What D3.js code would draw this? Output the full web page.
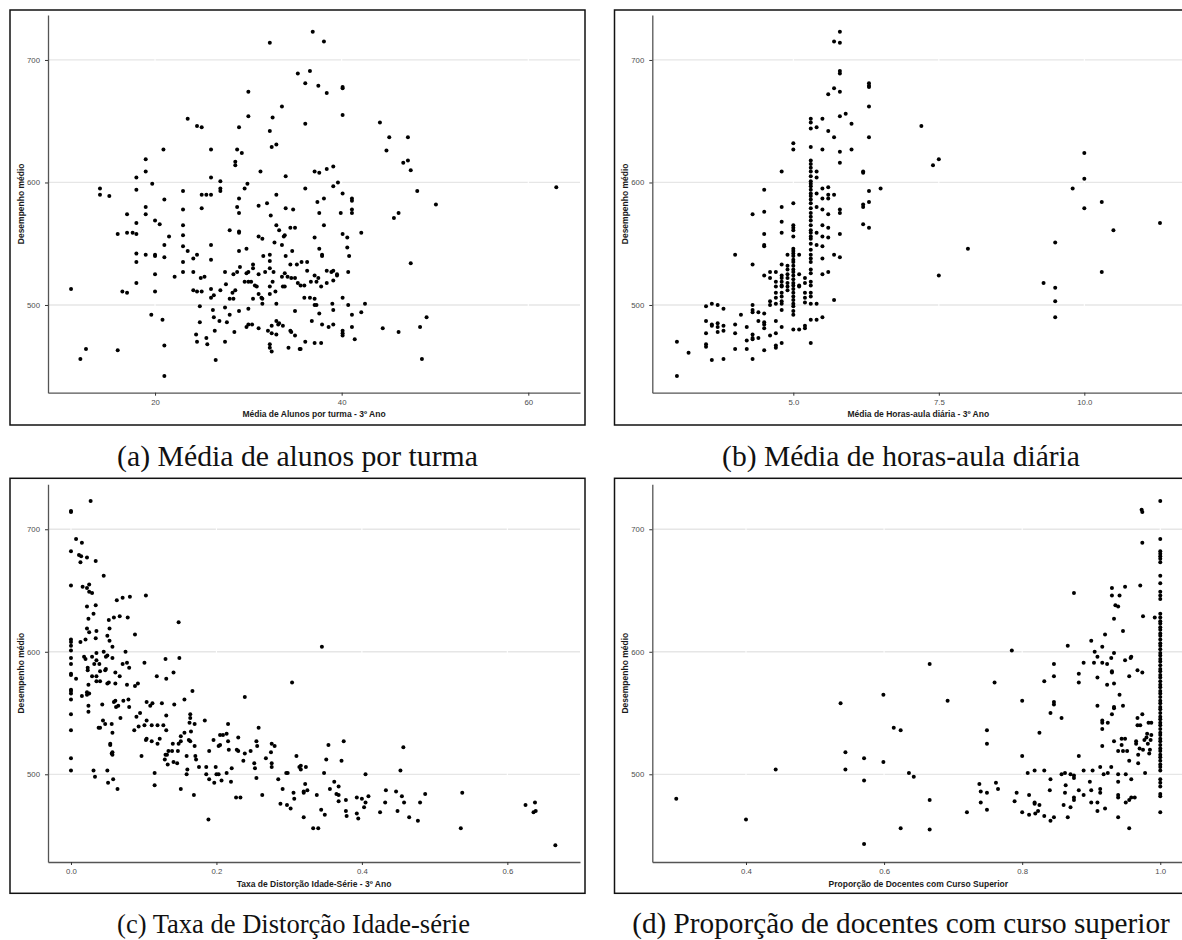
<!DOCTYPE html>
<html>
<head>
<meta charset="utf-8">
<script src="https://cdn.jsdelivr.net/npm/d3@7"></script>
<style>
  body { margin: 0; background: #fff; }
  svg { display: block; }
  .tick text { font-family: "Liberation Sans", Arial, sans-serif; font-size: 7.8px; fill: #4d4d4d; }
  .tick line { stroke: #333; }
  .domain { stroke: #555; stroke-width: 1.3px; }
  .axis-title { font-family: "Liberation Sans", Arial, sans-serif; font-size: 8.5px; font-weight: bold; fill: #1a1a1a; }
  .caption { font-family: "Liberation Serif", "DejaVu Serif", serif; fill: #111; }
</style>
</head>
<body>
<svg id="chart" width="1182" height="940"></svg>
<script>
// shared y axis: Desempenho médio
const yDomain = [428.4, 736.7];
const yTicks = [500, 600, 700];

// (a) média de alunos por turma vs desempenho
const alunos = [
  [32.3,714],[35.3,689],[30.0,674],[33.6,662],[23.5,652],[30.0,654],[32.6,653],[24.5,646],[25.0,645],[29.0,645],
  [32.3,642],[33.0,631],[32.5,629],[20.9,627],[26.0,627],[28.8,627],[29.3,624],[19.0,619],[28.6,617],[28.6,614],
  [19.0,609],[31.3,609],[18.0,604],[26.0,604],[34.0,605],[27.0,601],[19.7,599],[29.9,599],[29.6,595],[14.1,595],
  [18.0,594],[23.0,593],[27.0,595],[27.0,593],[14.1,590],[15.1,589],[25.0,590],[25.5,590],[26.0,590],[29.0,587],
  [33.0,590],[21.0,586],[25.0,579],[19.0,580],[31.1,581],[32.0,583],[34.0,579],[34.8,578],[23.0,578],[28.8,580],
  [29.0,575],[17.0,574],[19.0,574],[32.4,573],[18.0,567],[20.0,569],[20.5,566],[23.0,565],[33.0,565],[34.5,563],
  [35.0,563],[28.0,561],[29.0,560],[29.0,559],[33.3,561],[17.0,559],[17.6,559],[18.0,558],[16.0,558],[21.5,556],
  [23.0,557],[33.9,557],[33.8,556],[31.1,556],[31.5,554],[32.8,551],[33.6,549],[21.0,549],[23.0,548],[26.0,549],
  [23.5,544],[29.0,544],[29.8,546],[34.7,544],[18.0,542],[19.0,541],[20.0,541],[20.0,540],[24.5,541],[24.1,538],
  [21.0,539],[26.0,537],[18.0,535],[23.0,535],[31.6,540],[32.3,541],[34.0,540],[32.3,536],[34.5,533],[35.2,533],
  [30.5,533],[29.1,531],[30.5,530],[29.8,526],[30.0,527],[23.0,527],[24.1,527],[20.0,525],[27.5,527],[28.4,525],
  [28.8,527],[32.3,530],[32.7,527],[31.8,527],[31.1,525],[33.9,526],[33.6,523],[34.2,523],[34.6,522],[35.0,522],
  [24.9,522],[25.3,523],[22.1,523],[18.0,518],[29.6,519],[30.0,519],[30.3,519],[30.7,516],[30.9,515],[32.3,515],
  [32.6,519],[33.7,515],[33.9,515],[35.3,518],[27.6,517],[26.0,513],[27.0,512],[24.1,512],[24.5,511],[28.3,510],
  [32.9,511],[32.3,509],[31.1,509],[28.6,512],[11.0,513],[16.5,511],[17.0,510],[20.0,511],[26.3,508],[26.0,506],
  [25.0,511],[28.0,505],[28.4,505],[31.4,506],[31.5,505],[31.5,501],[30.5,505],[33.0,501],[24.8,499],[27.5,498],
  [30.0,497],[29.0,495],[35.0,495],[19.6,492],[26.2,496],[28.0,492],[26.3,490],[20.8,488],[26.9,487],[27.7,486],
  [24.8,486],[33.0,487],[33.3,485],[33.2,484],[29.8,482],[30.0,484],[30.4,484],[31.1,481],[32.1,479],[32.5,483],
  [33.7,483],[33.0,476],[32.5,477],[34.5,479],[34.6,478],[35.0,475],[26.4,479],[24.4,476],[28.5,478],[27.5,470],
  [24.5,470],[25.5,473],[25.6,468],[21.0,467],[32.3,468],[32.3,465],[32.5,462],[34.3,465],[35.5,464],[12.6,464],
  [16.0,463],[12.0,456],[26.5,455],[21.0,442],
  [36.9,723],[38.1,715],[36.6,691],[36.1,681],[37.5,679],[40.1,678],[40.1,677],[38.4,673],[40.1,655],[36.1,648],
  [44.1,649],[45.1,637],[47.1,637],[44.8,626],[47.1,618],[46.6,616],[47.4,610],[37.1,609],[37.6,608],[38.4,611],
  [39.1,613],[39.6,600],[39.1,597],[36.1,595],[48.1,593],[40.1,591],[63.0,596],[50.1,582],[41.1,587],[41.1,585],
  [38.1,587],[37.4,584],[41.1,578],[41.1,575],[37.6,575],[39.9,575],[46.1,575],[45.6,571],[38.1,565],[42.1,559],
  [40.1,558],[40.6,555],[37.1,555],[40.6,547],[37.6,546],[37.9,541],[37.9,540],[40.8,540],[47.4,534],[35.7,535],
  [36.3,535],[36.3,528],[38.4,528],[38.9,527],[39.1,528],[39.5,525],[39.5,524],[40.7,527],[37.1,524],[37.5,522],
  [36.7,519],[37.3,519],[38.4,518],[39.1,520],[35.6,516],[36.0,516],[37.8,515],[36.0,506],[36.6,506],[37.1,505],
  [37.1,500],[37.3,500],[39.0,501],[40.1,506],[40.7,500],[42.5,501],[37.6,493],[39.1,496],[41.1,492],[42.1,494],
  [36.8,487],[37.9,484],[38.6,482],[39.1,484],[40.1,479],[40.1,477],[40.1,475],[41.1,482],[41.4,472],[44.4,481],
  [46.1,478],[48.4,482],[49.1,490],[36.1,470],[37.1,469],[37.8,469],[35.6,464],[48.6,456]
];

// (b) média de horas-aula diária vs desempenho
const horas = [
  [3.0,470],[3.0,442],[3.2,461],
  [3.5,499],[3.5,487],[3.5,477],[3.5,468],[3.5,466],
  [3.6,501],[3.6,484],[3.6,483],[3.6,455],
  [3.7,500],[3.7,485],[3.7,482],[3.7,478],
  [3.8,497],[3.8,483],[3.8,479],[3.8,456],
  [4.0,541],[4.0,484],[4.0,477],[4.0,464],[4.1,492],
  [4.2,482],[4.2,471],[4.2,464],
  [4.3,574],[4.3,533],[4.3,500],[4.3,496],[4.3,494],[4.3,476],[4.3,473],[4.3,472],[4.3,456],
  [4.4,494],[4.4,487],[4.4,473],
  [4.5,594],[4.5,576],[4.5,558],[4.5,549],[4.5,548],[4.5,524],[4.5,493],[4.5,486],[4.5,484],[4.5,481],[4.5,463],
  [4.6,527],[4.6,522],[4.6,503],[4.6,500],[4.6,475],
  [4.7,527],[4.7,519],[4.7,515],[4.7,510],[4.7,506],[4.7,501],[4.7,487],[4.7,477],[4.7,467],[4.7,465],
  [4.8,609],[4.8,580],[4.8,568],[4.8,559],[4.8,533],[4.8,524],[4.8,522],[4.8,519],[4.8,516],[4.8,515],
  [4.8,510],[4.8,507],[4.8,503],[4.8,501],[4.8,496],[4.8,482],[4.8,469],
  [4.9,541],[4.9,532],[4.9,529],[4.9,525],[4.9,522],[4.9,518],[4.9,515],[4.9,512],
  [5.0,632],[5.0,627],[5.0,583],[5.0,565],[5.0,563],[5.0,561],[5.0,556],[5.0,546],[5.0,544],[5.0,542],
  [5.0,540],[5.0,537],[5.0,535],[5.0,532],[5.0,529],[5.0,527],[5.0,524],[5.0,521],[5.0,518],[5.0,516],
  [5.0,513],[5.0,510],[5.0,507],[5.0,504],[5.0,501],[5.0,499],[5.0,495],[5.0,492],[5.0,480],
  [5.1,541],[5.1,525],[5.1,516],[5.1,515],[5.1,480],
  [5.2,522],[5.2,518],[5.2,510],[5.2,506],[5.2,502],[5.2,481],[5.2,483],
  [5.3,652],[5.3,649],[5.3,644],[5.3,629],[5.3,618],[5.3,615],[5.3,612],[5.3,609],[5.3,605],[5.3,601],
  [5.3,599],[5.3,597],[5.3,594],[5.3,591],[5.3,589],[5.3,586],[5.3,583],[5.3,579],[5.3,575],[5.3,572],
  [5.3,569],[5.3,565],[5.3,561],[5.3,559],[5.3,556],[5.3,554],[5.3,550],[5.3,545],[5.3,541],[5.3,538],
  [5.3,535],[5.3,529],[5.3,526],[5.3,519],[5.3,516],[5.3,510],[5.3,507],[5.3,501],[5.3,488],[5.3,469],
  [5.4,645],[5.4,609],[5.4,604],[5.4,591],[5.4,580],[5.4,559],[5.4,549],[5.4,501],[5.4,488],
  [5.5,652],[5.5,627],[5.5,595],[5.5,587],[5.5,578],[5.5,565],[5.5,556],[5.5,548],[5.5,538],[5.5,525],[5.5,490],
  [5.6,672],[5.6,642],[5.6,596],[5.6,590],[5.6,587],[5.6,574],[5.6,563],[5.6,555],[5.6,527],
  [5.7,715],[5.7,677],[5.7,637],[5.7,590],[5.7,541],[5.7,504],
  [5.8,723],[5.8,714],[5.8,691],[5.8,689],[5.8,674],[5.8,654],[5.8,625],[5.8,616],[5.8,578],[5.8,575],[5.8,558],[5.8,539],
  [5.9,656],[6.0,648],[6.0,627],
  [6.2,609],[6.2,608],[6.2,582],[6.2,580],[6.2,566],
  [6.3,681],[6.3,679],[6.3,678],[6.3,662],[6.3,637],[6.3,593],[6.3,584],[6.3,563],
  [6.5,595],
  [7.2,646],[7.4,614],[7.5,619],[7.5,524],[8.0,546],[9.3,518],[9.5,551],[9.5,514],[9.5,503],[9.5,490],
  [9.8,595],[10.0,624],[10.0,603],[10.0,579],[10.3,584],[10.3,527],[10.5,561],[11.3,567]
];

// (c) taxa de distorção idade-série vs desempenho
const distorcao = [
  [0,715],[0,714],[0,682],[0,654],[0,610],[0,608],[0,605],[0,601],[0,595],[0,590],
  [0,582],[0,581],[0,569],[0,568],[0,566],[0,561],[0,549],[0,536],[0,513],[0,503],
  [0.007,578],[0.027,723],[0.007,692],[0.015,689],[0.011,679],[0.014,678],[0.022,677],[0.013,673],[0.034,674],[0.045,662],
  [0.016,653],[0.022,652],[0.025,649],[0.029,648],[0.025,655],[0.103,646],[0.081,645],[0.071,644],[0.063,642],[0.034,638],
  [0.022,637],[0.031,631],[0.067,629],[0.059,628],[0.078,628],[0.052,626],[0.024,627],[0.148,624],[0.053,619],[0.022,619],
  [0.035,617],[0.025,616],[0.088,614],[0.034,611],[0.050,613],[0.053,609],[0.020,610],[0.013,608],[0.057,604],[0.075,600],
  [0.045,600],[0.035,599],[0.050,597],[0.018,596],[0.029,596],[0.048,596],[0.057,595],[0.020,594],[0.035,593],[0.130,594],
  [0.149,595],[0.101,591],[0.039,590],[0.071,590],[0.077,591],[0.032,590],[0.023,587],[0.023,585],[0.048,586],[0.047,585],
  [0.080,587],[0.035,580],[0.029,580],[0.040,584],[0.061,583],[0.141,583],[0.118,580],[0.067,580],[0.131,578],[0.040,576],
  [0.035,576],[0.024,573],[0.052,575],[0.050,574],[0.061,574],[0.077,573],[0.092,574],[0.088,572],[0.167,568],[0.025,566],
  [0.022,565],[0.015,564],[0.022,567],[0.156,561],[0.059,559],[0.061,560],[0.072,560],[0.079,561],[0.104,559],[0.112,558],
  [0.109,556],[0.125,558],[0.142,557],[0.043,557],[0.024,556],[0.062,555],[0.065,556],[0.080,555],[0.024,551],[0.095,550],
  [0.090,547],[0.131,548],[0.104,544],[0.164,549],[0.164,546],[0.184,544],[0.068,546],[0.044,544],[0.047,541],[0.040,538],
  [0.038,538],[0.056,541],[0.093,539],[0.101,540],[0.111,540],[0.119,540],[0.127,540],[0.163,542],[0.170,541],[0.216,541],
  [0.258,538],[0.131,536],[0.165,535],[0.087,536],[0.057,534],[0.156,534],[0.151,531],[0.205,532],[0.209,532],[0.214,533],
  [0.196,528],[0.230,530],[0.162,528],[0.164,527],[0.104,529],[0.103,528],[0.111,527],[0.122,529],[0.140,525],[0.148,525],
  [0.151,527],[0.170,523],[0.054,525],[0.054,524],[0.119,525],[0.216,527],[0.203,523],[0.205,524],[0.217,520],[0.255,527],
  [0.256,523],[0.276,525],[0.280,523],[0.275,518],[0.228,520],[0.230,519],[0.134,519],[0.139,519],[0.147,519],[0.190,519],
  [0.239,517],[0.247,519],[0.057,518],[0.056,517],[0.057,516],[0.097,515],[0.159,515],[0.171,515],[0.172,512],[0.130,516],
  [0.132,516],[0.129,512],[0.133,508],[0.141,510],[0.146,509],[0.268,513],[0.237,511],[0.252,509],[0.276,509],[0.276,506],
  [0.221,505],[0.176,506],[0.186,506],[0.199,506],[0.160,504],[0.159,500],[0.186,500],[0.200,500],[0.203,500],[0.214,501],
  [0.253,505],[0.255,497],[0.285,496],[0.296,501],[0.298,501],[0.310,515],[0.314,506],[0.304,575],[0.239,563],[0.115,501],
  [0.115,491],[0.031,503],[0.033,498],[0.050,503],[0.051,493],[0.058,496],[0.064,488],[0.151,488],[0.169,483],[0.190,496],
  [0.197,493],[0.207,495],[0.220,494],[0.227,481],[0.233,481],[0.263,483],[0.291,488],[0.288,476],[0.297,475],[0.302,472],
  [0.306,485],[0.307,480],[0.189,463],
  [0.345,604],[0.354,524],[0.375,527],[0.457,522],[0.351,512],[0.372,511],[0.316,507],[0.316,504],[0.323,506],[0.348,501],
  [0.405,500],[0.453,503],[0.322,492],[0.362,494],[0.320,486],[0.320,485],[0.325,487],[0.338,483],[0.356,488],[0.365,484],
  [0.368,483],[0.368,490],[0.378,479],[0.368,478],[0.393,481],[0.400,480],[0.405,477],[0.409,482],[0.403,473],[0.393,468],
  [0.395,464],[0.378,470],[0.379,466],[0.433,487],[0.432,477],[0.425,469],[0.447,486],[0.455,482],[0.458,477],[0.449,470],
  [0.465,465],[0.480,477],[0.487,484],[0.477,462],[0.538,485],[0.536,456],[0.344,471],[0.349,467],[0.320,465],[0.333,456],
  [0.340,456],[0.625,475],[0.638,477],[0.636,469],[0.639,470],[0.666,442]
];

// (d) proporção de docentes com curso superior vs desempenho
const docentes = [
  [0.299,480],[0.400,463],[0.443,504],[0.537,558],[0.544,518],[0.544,504],[0.571,513],[0.571,495],[0.571,443],[0.599,565],
  [0.599,510],[0.614,538],[0.624,536],[0.636,501],[0.643,498],[0.624,456],[0.666,590],[0.666,479],[0.666,455],[0.692,560],
  [0.720,469],[0.738,492],[0.740,486],[0.740,477],[0.749,536],[0.749,525],[0.749,485],[0.749,471],[0.760,575],[0.762,493],
  [0.765,488],[0.785,601],[0.789,478],[0.792,485],[0.800,560],[0.800,515],[0.800,469],[0.808,501],[0.810,483],[0.810,467],
  [0.818,503],[0.818,477],[0.818,476],[0.819,468],[0.823,470],[0.825,475],[0.825,534],[0.832,576],[0.832,503],[0.832,466],
  [0.840,487],[0.841,550],[0.841,496],[0.841,462],[0.846,590],[0.846,580],[0.846,559],[0.846,557],[0.846,465],[0.857,546],
  [0.857,500],[0.860,475],[0.862,501],[0.862,485],[0.863,491],[0.866,605],[0.866,465],[0.870,500],[0.870,473],[0.875,648],
  [0.875,499],[0.875,497],[0.875,481],[0.875,479],[0.882,582],[0.882,575],[0.882,515],[0.882,487],[0.889,591],[0.889,503],
  [0.889,483],[0.898,494],[0.900,609],[0.900,487],[0.900,477],[0.902,503],[0.905,600],[0.904,591],[0.909,596],[0.909,579],
  [0.909,556],[0.909,477],[0.909,470],[0.913,488],[0.913,485],[0.913,506],[0.916,604],[0.916,591],[0.916,544],[0.916,542],
  [0.916,537],[0.916,523],[0.918,500],[0.920,614],[0.920,472],[0.923,590],[0.923,573],[0.924,501],[0.924,542],[0.929,506],
  [0.929,595],[0.930,646],[0.930,652],[0.930,584],[0.930,583],[0.930,549],[0.933,599],[0.933,627],[0.933,574],[0.933,555],
  [0.933,554],[0.933,527],[0.935,638],[0.939,637],[0.939,519],[0.939,500],[0.939,494],[0.939,483],[0.939,481],[0.939,465],
  [0.941,646],[0.941,565],[0.944,529],[0.944,524],[0.946,617],[0.946,556],[0.946,519],[0.949,653],[0.949,593],[0.949,529],
  [0.950,500],[0.950,477],[0.952,519],[0.955,580],[0.955,511],[0.955,479],[0.955,456],[0.957,595],[0.958,596],[0.958,496],
  [0.958,481],[0.963,481],[0.965,527],[0.965,525],[0.967,546],[0.967,585],[0.967,540],[0.968,516],[0.968,509],[0.970,521],
  [0.971,654],[0.971,540],[0.973,716],[0.974,714],[0.974,689],[0.974,583],[0.974,549],[0.975,520],[0.975,629],[0.977,528],
  [0.978,501],[0.980,530],[0.981,533],[0.982,525],[0.983,542],[0.984,517],[0.985,520],[0.986,528],[0.987,542],[0.987,532],
  [0.992,628],
  [1,723],[1,692],[1,682],[1,680],[1,678],[1,676],[1,673],[1,662],[1,656],[1,649],[1,646],[1,643],[1,631],
  [1,628],[1,625],[1,623],[1,620],[1,618],[1,615],[1,613],[1,610],[1,607],[1,605],[1,602],[1,599],[1,597],
  [1,594],[1,592],[1,589],[1,586],[1,584],[1,581],[1,579],[1,576],[1,573],[1,571],[1,568],[1,566],[1,563],
  [1,560],[1,558],[1,555],[1,553],[1,550],[1,547],[1,545],[1,542],[1,540],[1,537],[1,534],[1,532],[1,529],
  [1,527],[1,524],[1,521],[1,519],[1,516],[1,514],[1,511],[1,508],[1,506],[1,503],
  [1,496],[1,493],[1,490],[1,484],[1,482],[1,469]
];

// x ticks per panel
const alunosTicks = [20, 40, 60];
const horasTicks = [5, 7.5, 10];
const distorcaoTicks = [0, 0.2, 0.4, 0.6];
const docentesTicks = [0.4, 0.6, 0.8, 1.0];

const svg = d3.select("#chart");

const panels = [
  { data: alunos, ticks: alunosTicks, fmt: d3.format("d"), xDomain: [8.53, 65.54],
    frame: [10, 10], plot: { l: 48, r: 580, t: 15, b: 392.7 },
    xTitle: "Média de Alunos por turma - 3º Ano",
    caption: "(a) Média de alunos por turma", cap: [297.5, 466], capW: 361 },
  { data: horas, ticks: horasTicks, fmt: d3.format(".1f"), xDomain: [2.577, 11.718],
    frame: [614.5, 10], plot: { l: 652.3, r: 1184.3, t: 15, b: 392.7 },
    xTitle: "Média de Horas-aula diária - 3º Ano",
    caption: "(b) Média de horas-aula diária", cap: [901, 466], capW: 358 },
  { data: distorcao, ticks: distorcaoTicks, fmt: d3.format(".1f"), xDomain: [-0.0316, 0.6999],
    frame: [10, 478.3], plot: { l: 48, r: 580, t: 484.3, b: 862 },
    xTitle: "Taxa de Distorção Idade-Série - 3º Ano",
    caption: "(c) Taxa de Distorção Idade-série", cap: [293.5, 933], capW: 353 },
  { data: docentes, ticks: docentesTicks, fmt: d3.format(".1f"), xDomain: [0.2643, 1.0348],
    frame: [614.5, 478.3], plot: { l: 652.3, r: 1184.3, t: 484.3, b: 862 },
    xTitle: "Proporção de Docentes com Curso Superior",
    caption: "(d) Proporção de docentes com curso superior", cap: [901, 933], capW: 538 }
];

panels.forEach(p => {
  const g = svg.append("g");
  const pl = p.plot;

  const x = d3.scaleLinear().domain(p.xDomain).range([pl.l, pl.r]);
  const y = d3.scaleLinear().domain(yDomain).range([pl.b, pl.t]);

  // outer box
  g.append("rect")
    .attr("x", p.frame[0]).attr("y", p.frame[1])
    .attr("width", 575).attr("height", 415)
    .attr("fill", "none").attr("stroke", "#111").attr("stroke-width", 1.5);

  // horizontal grid
  g.append("g").selectAll("line").data(yTicks).join("line")
    .attr("x1", pl.l).attr("x2", pl.r)
    .attr("y1", d => y(d)).attr("y2", d => y(d))
    .attr("stroke", "#e6e6e6").attr("stroke-width", 1.3);
  // white vertical grid (shows as breaks in horizontal lines)
  g.append("g").selectAll("line").data(p.ticks).join("line")
    .attr("x1", d => x(d)).attr("x2", d => x(d))
    .attr("y1", pl.t).attr("y2", pl.b)
    .attr("stroke", "#fff").attr("stroke-width", 1.1);

  // points
  g.append("g").selectAll("circle").data(p.data).join("circle")
    .attr("cx", d => x(d[0]))
    .attr("cy", d => y(d[1]))
    .attr("r", 2.0)
    .attr("fill", "#000");

  // axes
  g.append("g")
    .attr("transform", `translate(${pl.l},0)`)
    .call(d3.axisLeft(y).tickValues(yTicks).tickSize(3).tickSizeOuter(0).tickPadding(5));
  g.append("g")
    .attr("transform", `translate(0,${pl.b})`)
    .call(d3.axisBottom(x).tickValues(p.ticks).tickFormat(p.fmt).tickSize(3).tickSizeOuter(0).tickPadding(3.5));

  // axis titles
  g.append("text").attr("class", "axis-title")
    .attr("x", (pl.l + pl.r) / 2).attr("y", pl.b + 24.6)
    .attr("text-anchor", "middle").text(p.xTitle);
  g.append("text").attr("class", "axis-title")
    .attr("transform", `translate(${pl.l - 24.3},${(pl.t + pl.b) / 2}) rotate(-90)`)
    .attr("text-anchor", "middle").text("Desempenho médio");

  // caption below the box
  const cap = svg.append("text").attr("class", "caption")
    .attr("x", p.cap[0]).attr("y", p.cap[1])
    .attr("text-anchor", "middle")
    .style("font-size", "24px")
    .text(p.caption);
  const w = cap.node().getComputedTextLength();
  cap.style("font-size", (24 * p.capW / w) + "px");
});
</script>
</body>
</html>
